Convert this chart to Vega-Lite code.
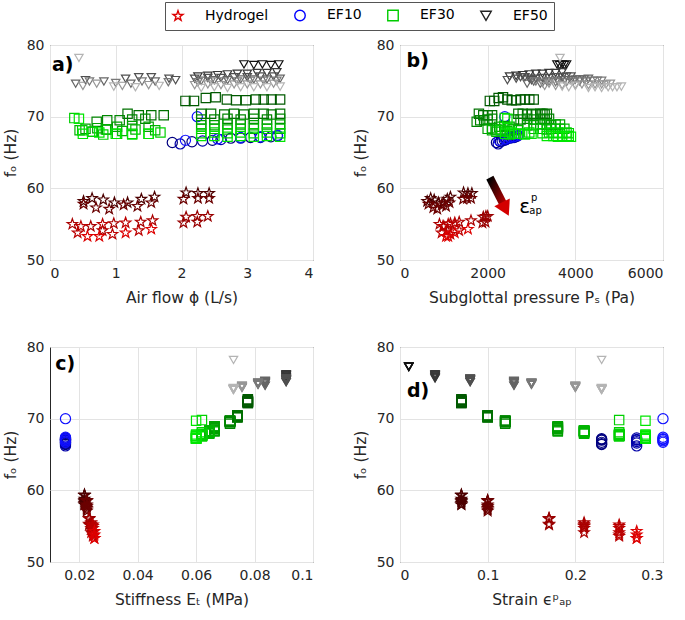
{
"$schema":"https://vega.github.io/schema/vega-lite/v6.json",
"padding":{"left":2,"top":1,"right":2,"bottom":5},
"background":"white",
"config":{
 "font":"DejaVu Sans",
 "view":{"stroke":"#262626","strokeWidth":1},
 "axis":{"domain":false,"ticks":false,"gridColor":"#e3e3e3","labelFont":"DejaVu Sans","labelFontSize":14,"labelColor":"#262626","labelPadding":6,"titleFont":"DejaVu Sans","titleFontSize":15.5,"titleFontWeight":"normal","titleColor":"#262626"},
 "axisX":{"titlePadding":10},
 "axisY":{"titlePadding":8}
},
"resolve":{"scale":{"shape":"independent","color":"independent"},"legend":{"shape":"independent","color":"independent"}},
"datasets":{"legendItems":[{"m":"Hydrogel"},{"m":"EF10"},{"m":"EF30"},{"m":"EF50"}]},
"data":{"values":[
{"m":"Hydrogel","k":"H1","s":0.07,"E":0.0218,"q":0.51,"p":620,"f":58.2},
{"m":"Hydrogel","k":"H1","s":0.07,"E":0.0218,"q":0.64,"p":700,"f":58.6},
{"m":"Hydrogel","k":"H1","s":0.07,"E":0.0218,"q":0.81,"p":780,"f":58.4},
{"m":"Hydrogel","k":"H1","s":0.07,"E":0.0218,"q":0.98,"p":880,"f":58.0},
{"m":"Hydrogel","k":"H1","s":0.07,"E":0.0218,"q":1.18,"p":990,"f":58.0},
{"m":"Hydrogel","k":"H1","s":0.07,"E":0.0218,"q":1.39,"p":1080,"f":58.5},
{"m":"Hydrogel","k":"H1","s":0.07,"E":0.0218,"q":1.59,"p":1150,"f":58.8},
{"m":"Hydrogel","k":"H1","s":0.07,"E":0.0218,"q":2.07,"p":1450,"f":59.4},
{"m":"Hydrogel","k":"H1","s":0.07,"E":0.0218,"q":2.25,"p":1550,"f":59.3},
{"m":"Hydrogel","k":"H1","s":0.07,"E":0.0218,"q":2.42,"p":1640,"f":59.3},
{"m":"Hydrogel","k":"H2","s":0.10,"E":0.0226,"q":0.51,"p":650,"f":57.8},
{"m":"Hydrogel","k":"H2","s":0.10,"E":0.0226,"q":0.70,"p":760,"f":57.3},
{"m":"Hydrogel","k":"H2","s":0.10,"E":0.0226,"q":0.90,"p":850,"f":57.1},
{"m":"Hydrogel","k":"H2","s":0.10,"E":0.0226,"q":1.12,"p":950,"f":57.7},
{"m":"Hydrogel","k":"H2","s":0.10,"E":0.0226,"q":1.33,"p":1050,"f":57.5},
{"m":"Hydrogel","k":"H2","s":0.10,"E":0.0226,"q":1.54,"p":1130,"f":58.0},
{"m":"Hydrogel","k":"H2","s":0.10,"E":0.0226,"q":2.03,"p":1440,"f":58.5},
{"m":"Hydrogel","k":"H2","s":0.10,"E":0.0226,"q":2.25,"p":1530,"f":58.6},
{"m":"Hydrogel","k":"H2","s":0.10,"E":0.0226,"q":2.42,"p":1620,"f":58.6},
{"m":"Hydrogel","k":"H3","s":0.17,"E":0.0234,"q":2.03,"p":1880,"f":55.2},
{"m":"Hydrogel","k":"H3","s":0.17,"E":0.0234,"q":2.07,"p":1900,"f":56.0},
{"m":"Hydrogel","k":"H3","s":0.17,"E":0.0234,"q":2.24,"p":1950,"f":55.3},
{"m":"Hydrogel","k":"H3","s":0.17,"E":0.0234,"q":2.24,"p":1960,"f":56.1},
{"m":"Hydrogel","k":"H3","s":0.17,"E":0.0234,"q":2.40,"p":2000,"f":56.1},
{"m":"Hydrogel","k":"H4","s":0.21,"E":0.0241,"q":0.34,"p":900,"f":55.0},
{"m":"Hydrogel","k":"H4","s":0.21,"E":0.0241,"q":0.62,"p":1000,"f":54.7},
{"m":"Hydrogel","k":"H4","s":0.21,"E":0.0241,"q":0.80,"p":1080,"f":54.1},
{"m":"Hydrogel","k":"H4","s":0.21,"E":0.0241,"q":0.97,"p":1150,"f":55.1},
{"m":"Hydrogel","k":"H4","s":0.21,"E":0.0241,"q":1.38,"p":1350,"f":55.3},
{"m":"Hydrogel","k":"H4","s":0.21,"E":0.0241,"q":1.56,"p":1620,"f":55.5},
{"m":"Hydrogel","k":"H5","s":0.25,"E":0.0247,"q":0.42,"p":950,"f":53.8},
{"m":"Hydrogel","k":"H5","s":0.25,"E":0.0247,"q":0.47,"p":980,"f":54.7},
{"m":"Hydrogel","k":"H5","s":0.25,"E":0.0247,"q":0.80,"p":1100,"f":55.0},
{"m":"Hydrogel","k":"H5","s":0.25,"E":0.0247,"q":0.95,"p":1150,"f":53.6},
{"m":"Hydrogel","k":"H5","s":0.25,"E":0.0247,"q":1.15,"p":1250,"f":55.2},
{"m":"Hydrogel","k":"H5","s":0.25,"E":0.0247,"q":1.35,"p":1350,"f":54.1},
{"m":"Hydrogel","k":"H6","s":0.27,"E":0.0252,"q":0.57,"p":1050,"f":53.3},
{"m":"Hydrogel","k":"H6","s":0.27,"E":0.0252,"q":0.75,"p":1100,"f":53.3},
{"m":"Hydrogel","k":"H6","s":0.27,"E":0.0252,"q":1.15,"p":1250,"f":53.8},
{"m":"Hydrogel","k":"H6","s":0.27,"E":0.0252,"q":1.54,"p":1550,"f":54.3},
{"m":"EF10","k":"C1","s":0.23,"E":0.0153,"q":1.86,"p":2200,"f":66.4},
{"m":"EF10","k":"C1","s":0.23,"E":0.0153,"q":2.16,"p":2290,"f":66.5},
{"m":"EF10","k":"C1","s":0.23,"E":0.0153,"q":2.47,"p":2380,"f":66.7},
{"m":"EF10","k":"C1","s":0.23,"E":0.0153,"q":2.75,"p":2460,"f":67.0},
{"m":"EF10","k":"C1","s":0.23,"E":0.0153,"q":3.05,"p":2550,"f":67.1},
{"m":"EF10","k":"C1","s":0.23,"E":0.0153,"q":3.36,"p":2640,"f":67.2},
{"m":"EF10","k":"C2","s":0.27,"E":0.0153,"q":1.98,"p":2240,"f":66.2},
{"m":"EF10","k":"C2","s":0.27,"E":0.0153,"q":2.32,"p":2330,"f":66.6},
{"m":"EF10","k":"C2","s":0.27,"E":0.0153,"q":2.60,"p":2420,"f":66.8},
{"m":"EF10","k":"C2","s":0.27,"E":0.0153,"q":2.90,"p":2510,"f":67.0},
{"m":"EF10","k":"C2","s":0.27,"E":0.0153,"q":3.20,"p":2600,"f":67.1},
{"m":"EF10","k":"C2","s":0.27,"E":0.0153,"q":3.46,"p":2680,"f":67.3},
{"m":"EF10","k":"C3","s":0.30,"E":0.0153,"q":2.06,"p":2260,"f":66.7},
{"m":"EF10","k":"C3","s":0.30,"E":0.0153,"q":2.24,"p":2390,"f":70.0},
{"m":"EF10","k":"C3","s":0.30,"E":0.0153,"q":2.55,"p":2400,"f":66.9},
{"m":"EF10","k":"C3","s":0.30,"E":0.0153,"q":2.90,"p":2500,"f":67.1},
{"m":"EF10","k":"C3","s":0.30,"E":0.0153,"q":3.20,"p":2590,"f":67.2},
{"m":"EF10","k":"C3","s":0.30,"E":0.0153,"q":3.46,"p":2700,"f":67.4},
{"m":"EF30","k":"G1","s":0.07,"E":0.0777,"q":2.06,"p":2050,"f":72.2},
{"m":"EF30","k":"G1","s":0.07,"E":0.0777,"q":2.19,"p":2150,"f":72.2},
{"m":"EF30","k":"G1","s":0.07,"E":0.0777,"q":2.37,"p":2250,"f":72.6},
{"m":"EF30","k":"G1","s":0.07,"E":0.0777,"q":2.52,"p":2350,"f":72.7},
{"m":"EF30","k":"G1","s":0.07,"E":0.0777,"q":2.69,"p":2450,"f":72.4},
{"m":"EF30","k":"G1","s":0.07,"E":0.0777,"q":2.83,"p":2550,"f":72.3},
{"m":"EF30","k":"G1","s":0.07,"E":0.0777,"q":2.98,"p":2650,"f":72.3},
{"m":"EF30","k":"G1","s":0.07,"E":0.0777,"q":3.13,"p":2750,"f":72.4},
{"m":"EF30","k":"G1","s":0.07,"E":0.0777,"q":3.25,"p":2850,"f":72.4},
{"m":"EF30","k":"G1","s":0.07,"E":0.0777,"q":3.37,"p":2950,"f":72.4},
{"m":"EF30","k":"G1","s":0.07,"E":0.0777,"q":3.50,"p":3050,"f":72.4},
{"m":"EF30","k":"G2","s":0.10,"E":0.0741,"q":1.18,"p":1800,"f":70.4},
{"m":"EF30","k":"G2","s":0.10,"E":0.0741,"q":1.35,"p":1900,"f":70.2},
{"m":"EF30","k":"G2","s":0.10,"E":0.0741,"q":1.54,"p":2000,"f":70.2},
{"m":"EF30","k":"G2","s":0.10,"E":0.0741,"q":1.73,"p":2100,"f":70.2},
{"m":"EF30","k":"G2","s":0.10,"E":0.0741,"q":2.30,"p":2700,"f":70.4},
{"m":"EF30","k":"G2","s":0.10,"E":0.0741,"q":2.45,"p":2800,"f":70.4},
{"m":"EF30","k":"G2","s":0.10,"E":0.0741,"q":2.65,"p":2900,"f":70.3},
{"m":"EF30","k":"G2","s":0.10,"E":0.0741,"q":2.80,"p":3000,"f":70.4},
{"m":"EF30","k":"G2","s":0.10,"E":0.0741,"q":2.95,"p":3100,"f":70.3},
{"m":"EF30","k":"G2","s":0.10,"E":0.0741,"q":3.10,"p":3200,"f":70.4},
{"m":"EF30","k":"G2","s":0.10,"E":0.0741,"q":3.25,"p":3250,"f":70.4},
{"m":"EF30","k":"G2","s":0.10,"E":0.0741,"q":3.37,"p":3300,"f":70.3},
{"m":"EF30","k":"G2","s":0.10,"E":0.0741,"q":3.50,"p":3350,"f":70.4},
{"m":"EF30","k":"G3","s":0.12,"E":0.0716,"q":0.71,"p":1750,"f":69.3},
{"m":"EF30","k":"G3","s":0.12,"E":0.0716,"q":0.87,"p":1830,"f":69.5},
{"m":"EF30","k":"G3","s":0.12,"E":0.0716,"q":1.06,"p":1920,"f":69.5},
{"m":"EF30","k":"G3","s":0.12,"E":0.0716,"q":1.25,"p":2000,"f":69.6},
{"m":"EF30","k":"G3","s":0.12,"E":0.0716,"q":1.45,"p":2100,"f":69.7},
{"m":"EF30","k":"G3","s":0.12,"E":0.0716,"q":2.30,"p":2600,"f":69.6},
{"m":"EF30","k":"G3","s":0.12,"E":0.0716,"q":2.50,"p":2750,"f":69.6},
{"m":"EF30","k":"G3","s":0.12,"E":0.0716,"q":2.70,"p":2900,"f":69.7},
{"m":"EF30","k":"G3","s":0.12,"E":0.0716,"q":2.90,"p":3050,"f":69.6},
{"m":"EF30","k":"G3","s":0.12,"E":0.0716,"q":3.10,"p":3200,"f":69.7},
{"m":"EF30","k":"G3","s":0.12,"E":0.0716,"q":3.30,"p":3300,"f":69.6},
{"m":"EF30","k":"G3","s":0.12,"E":0.0716,"q":3.50,"p":3400,"f":69.7},
{"m":"EF30","k":"G4","s":0.18,"E":0.0663,"q":0.54,"p":2000,"f":68.3},
{"m":"EF30","k":"G4","s":0.18,"E":0.0663,"q":0.72,"p":2100,"f":68.4},
{"m":"EF30","k":"G4","s":0.18,"E":0.0663,"q":0.87,"p":2180,"f":68.2},
{"m":"EF30","k":"G4","s":0.18,"E":0.0663,"q":1.02,"p":2260,"f":68.6},
{"m":"EF30","k":"G4","s":0.18,"E":0.0663,"q":1.25,"p":2380,"f":68.7},
{"m":"EF30","k":"G4","s":0.18,"E":0.0663,"q":1.50,"p":2500,"f":68.6},
{"m":"EF30","k":"G4","s":0.18,"E":0.0663,"q":2.30,"p":2900,"f":68.8},
{"m":"EF30","k":"G4","s":0.18,"E":0.0663,"q":2.50,"p":3050,"f":68.8},
{"m":"EF30","k":"G4","s":0.18,"E":0.0663,"q":2.70,"p":3200,"f":68.9},
{"m":"EF30","k":"G4","s":0.18,"E":0.0663,"q":2.90,"p":3350,"f":68.9},
{"m":"EF30","k":"G4","s":0.18,"E":0.0663,"q":3.10,"p":3450,"f":68.8},
{"m":"EF30","k":"G4","s":0.18,"E":0.0663,"q":3.30,"p":3550,"f":68.9},
{"m":"EF30","k":"G4","s":0.18,"E":0.0663,"q":3.50,"p":3650,"f":68.9},
{"m":"EF30","k":"G5","s":0.21,"E":0.0645,"q":0.45,"p":2100,"f":68.1},
{"m":"EF30","k":"G5","s":0.21,"E":0.0645,"q":0.65,"p":2200,"f":67.9},
{"m":"EF30","k":"G5","s":0.21,"E":0.0645,"q":0.85,"p":2300,"f":68.2},
{"m":"EF30","k":"G5","s":0.21,"E":0.0645,"q":1.10,"p":2450,"f":68.0},
{"m":"EF30","k":"G5","s":0.21,"E":0.0645,"q":1.30,"p":2550,"f":68.2},
{"m":"EF30","k":"G5","s":0.21,"E":0.0645,"q":1.60,"p":2700,"f":68.1},
{"m":"EF30","k":"G5","s":0.21,"E":0.0645,"q":2.30,"p":3050,"f":68.3},
{"m":"EF30","k":"G5","s":0.21,"E":0.0645,"q":2.50,"p":3200,"f":68.3},
{"m":"EF30","k":"G5","s":0.21,"E":0.0645,"q":2.70,"p":3350,"f":68.2},
{"m":"EF30","k":"G5","s":0.21,"E":0.0645,"q":2.90,"p":3450,"f":68.3},
{"m":"EF30","k":"G5","s":0.21,"E":0.0645,"q":3.10,"p":3550,"f":68.3},
{"m":"EF30","k":"G5","s":0.21,"E":0.0645,"q":3.30,"p":3650,"f":68.3},
{"m":"EF30","k":"G5","s":0.21,"E":0.0645,"q":3.50,"p":3750,"f":68.3},
{"m":"EF30","k":"G6","s":0.25,"E":0.0620,"q":0.37,"p":2390,"f":69.8},
{"m":"EF30","k":"G6","s":0.25,"E":0.0620,"q":0.49,"p":2300,"f":68.1},
{"m":"EF30","k":"G6","s":0.25,"E":0.0620,"q":0.64,"p":2400,"f":67.9},
{"m":"EF30","k":"G6","s":0.25,"E":0.0620,"q":0.81,"p":2500,"f":67.5},
{"m":"EF30","k":"G6","s":0.25,"E":0.0620,"q":1.02,"p":2600,"f":67.6},
{"m":"EF30","k":"G6","s":0.25,"E":0.0620,"q":1.25,"p":2700,"f":67.6},
{"m":"EF30","k":"G6","s":0.25,"E":0.0620,"q":1.50,"p":2850,"f":67.6},
{"m":"EF30","k":"G6","s":0.25,"E":0.0620,"q":1.68,"p":2950,"f":67.8},
{"m":"EF30","k":"G6","s":0.25,"E":0.0620,"q":2.30,"p":3250,"f":67.7},
{"m":"EF30","k":"G6","s":0.25,"E":0.0620,"q":2.50,"p":3400,"f":67.8},
{"m":"EF30","k":"G6","s":0.25,"E":0.0620,"q":2.70,"p":3500,"f":67.7},
{"m":"EF30","k":"G6","s":0.25,"E":0.0620,"q":2.90,"p":3600,"f":67.8},
{"m":"EF30","k":"G6","s":0.25,"E":0.0620,"q":3.10,"p":3700,"f":67.7},
{"m":"EF30","k":"G6","s":0.25,"E":0.0620,"q":3.30,"p":3800,"f":67.8},
{"m":"EF30","k":"G6","s":0.25,"E":0.0620,"q":3.50,"p":3850,"f":67.7},
{"m":"EF30","k":"G7","s":0.28,"E":0.0600,"q":0.44,"p":2450,"f":69.7},
{"m":"EF30","k":"G7","s":0.28,"E":0.0600,"q":0.50,"p":2400,"f":67.6},
{"m":"EF30","k":"G7","s":0.28,"E":0.0600,"q":0.75,"p":2550,"f":67.8},
{"m":"EF30","k":"G7","s":0.28,"E":0.0600,"q":1.00,"p":2700,"f":67.6},
{"m":"EF30","k":"G7","s":0.28,"E":0.0600,"q":1.25,"p":2850,"f":67.5},
{"m":"EF30","k":"G7","s":0.28,"E":0.0600,"q":1.50,"p":3000,"f":67.6},
{"m":"EF30","k":"G7","s":0.28,"E":0.0600,"q":2.30,"p":3350,"f":67.3},
{"m":"EF30","k":"G7","s":0.28,"E":0.0600,"q":2.50,"p":3500,"f":67.3},
{"m":"EF30","k":"G7","s":0.28,"E":0.0600,"q":2.70,"p":3600,"f":67.2},
{"m":"EF30","k":"G7","s":0.28,"E":0.0600,"q":2.90,"p":3700,"f":67.3},
{"m":"EF30","k":"G7","s":0.28,"E":0.0600,"q":3.10,"p":3800,"f":67.2},
{"m":"EF30","k":"G7","s":0.28,"E":0.0600,"q":3.30,"p":3850,"f":67.3},
{"m":"EF30","k":"G7","s":0.28,"E":0.0600,"q":3.50,"p":3900,"f":67.2},
{"m":"EF50","k":"T1","s":0.01,"E":null,"q":2.95,"p":3580,"f":77.3},
{"m":"EF50","k":"T1","s":0.01,"E":null,"q":3.10,"p":3640,"f":77.2},
{"m":"EF50","k":"T1","s":0.01,"E":null,"q":3.23,"p":3700,"f":77.3},
{"m":"EF50","k":"T1","s":0.01,"E":null,"q":3.36,"p":3750,"f":77.2},
{"m":"EF50","k":"T1","s":0.01,"E":null,"q":3.48,"p":3800,"f":77.3},
{"m":"EF50","k":"T2","s":0.04,"E":0.0908,"q":2.25,"p":2500,"f":75.6},
{"m":"EF50","k":"T2","s":0.04,"E":0.0908,"q":2.40,"p":2650,"f":75.7},
{"m":"EF50","k":"T2","s":0.04,"E":0.0908,"q":2.55,"p":2800,"f":75.8},
{"m":"EF50","k":"T2","s":0.04,"E":0.0908,"q":2.70,"p":2950,"f":75.9},
{"m":"EF50","k":"T2","s":0.04,"E":0.0908,"q":2.85,"p":3100,"f":76.0},
{"m":"EF50","k":"T2","s":0.04,"E":0.0908,"q":3.00,"p":3250,"f":76.0},
{"m":"EF50","k":"T2","s":0.04,"E":0.0908,"q":3.15,"p":3400,"f":76.1},
{"m":"EF50","k":"T2","s":0.04,"E":0.0908,"q":3.30,"p":3550,"f":76.1},
{"m":"EF50","k":"T2","s":0.04,"E":0.0908,"q":3.45,"p":3700,"f":76.2},
{"m":"EF50","k":"T3","s":0.08,"E":0.0908,"q":0.54,"p":2450,"f":75.1},
{"m":"EF50","k":"T3","s":0.08,"E":0.0908,"q":1.15,"p":2650,"f":75.3},
{"m":"EF50","k":"T3","s":0.08,"E":0.0908,"q":1.35,"p":2750,"f":75.5},
{"m":"EF50","k":"T3","s":0.08,"E":0.0908,"q":1.54,"p":2850,"f":75.5},
{"m":"EF50","k":"T3","s":0.08,"E":0.0908,"q":1.81,"p":2950,"f":75.3},
{"m":"EF50","k":"T3","s":0.08,"E":0.0908,"q":1.91,"p":3000,"f":75.1},
{"m":"EF50","k":"T3","s":0.08,"E":0.0908,"q":2.20,"p":3100,"f":75.3},
{"m":"EF50","k":"T3","s":0.08,"E":0.0908,"q":2.40,"p":3250,"f":75.4},
{"m":"EF50","k":"T3","s":0.08,"E":0.0908,"q":2.60,"p":3400,"f":75.4},
{"m":"EF50","k":"T3","s":0.08,"E":0.0908,"q":2.80,"p":3550,"f":75.5},
{"m":"EF50","k":"T3","s":0.08,"E":0.0908,"q":3.00,"p":3700,"f":75.5},
{"m":"EF50","k":"T3","s":0.08,"E":0.0908,"q":3.20,"p":3800,"f":75.6},
{"m":"EF50","k":"T3","s":0.08,"E":0.0908,"q":3.40,"p":3900,"f":75.6},
{"m":"EF50","k":"T4","s":0.13,"E":0.0836,"q":0.39,"p":2900,"f":74.6},
{"m":"EF50","k":"T4","s":0.13,"E":0.0836,"q":0.82,"p":3050,"f":74.9},
{"m":"EF50","k":"T4","s":0.13,"E":0.0836,"q":1.23,"p":3200,"f":74.6},
{"m":"EF50","k":"T4","s":0.13,"E":0.0836,"q":1.60,"p":3350,"f":74.9},
{"m":"EF50","k":"T4","s":0.13,"E":0.0836,"q":2.30,"p":3600,"f":75.0},
{"m":"EF50","k":"T4","s":0.13,"E":0.0836,"q":2.50,"p":3750,"f":75.1},
{"m":"EF50","k":"T4","s":0.13,"E":0.0836,"q":2.70,"p":3900,"f":75.1},
{"m":"EF50","k":"T4","s":0.13,"E":0.0836,"q":2.90,"p":4000,"f":75.2},
{"m":"EF50","k":"T4","s":0.13,"E":0.0836,"q":3.10,"p":4100,"f":75.2},
{"m":"EF50","k":"T4","s":0.13,"E":0.0836,"q":3.30,"p":4200,"f":75.2},
{"m":"EF50","k":"T4","s":0.13,"E":0.0836,"q":3.50,"p":4300,"f":75.3},
{"m":"EF50","k":"T5","s":0.15,"E":0.0812,"q":0.60,"p":3100,"f":74.9},
{"m":"EF50","k":"T5","s":0.15,"E":0.0812,"q":1.00,"p":3250,"f":74.7},
{"m":"EF50","k":"T5","s":0.15,"E":0.0812,"q":1.40,"p":3400,"f":74.9},
{"m":"EF50","k":"T5","s":0.15,"E":0.0812,"q":1.80,"p":3550,"f":74.8},
{"m":"EF50","k":"T5","s":0.15,"E":0.0812,"q":2.25,"p":3800,"f":74.8},
{"m":"EF50","k":"T5","s":0.15,"E":0.0812,"q":2.45,"p":3950,"f":74.9},
{"m":"EF50","k":"T5","s":0.15,"E":0.0812,"q":2.65,"p":4100,"f":74.9},
{"m":"EF50","k":"T5","s":0.15,"E":0.0812,"q":2.85,"p":4250,"f":74.9},
{"m":"EF50","k":"T5","s":0.15,"E":0.0812,"q":3.05,"p":4400,"f":75.0},
{"m":"EF50","k":"T5","s":0.15,"E":0.0812,"q":3.25,"p":4500,"f":75.0},
{"m":"EF50","k":"T5","s":0.15,"E":0.0812,"q":3.45,"p":4600,"f":75.0},
{"m":"EF50","k":"T6","s":0.20,"E":0.0757,"q":0.50,"p":3300,"f":74.3},
{"m":"EF50","k":"T6","s":0.20,"E":0.0757,"q":0.71,"p":3400,"f":74.6},
{"m":"EF50","k":"T6","s":0.20,"E":0.0757,"q":1.10,"p":3550,"f":74.3},
{"m":"EF50","k":"T6","s":0.20,"E":0.0757,"q":1.50,"p":3700,"f":74.4},
{"m":"EF50","k":"T6","s":0.20,"E":0.0757,"q":2.20,"p":4000,"f":74.4},
{"m":"EF50","k":"T6","s":0.20,"E":0.0757,"q":2.40,"p":4150,"f":74.5},
{"m":"EF50","k":"T6","s":0.20,"E":0.0757,"q":2.60,"p":4300,"f":74.4},
{"m":"EF50","k":"T6","s":0.20,"E":0.0757,"q":2.80,"p":4450,"f":74.5},
{"m":"EF50","k":"T6","s":0.20,"E":0.0757,"q":3.00,"p":4600,"f":74.5},
{"m":"EF50","k":"T6","s":0.20,"E":0.0757,"q":3.20,"p":4700,"f":74.5},
{"m":"EF50","k":"T6","s":0.20,"E":0.0757,"q":3.40,"p":4800,"f":74.6},
{"m":"EF50","k":"T7","s":0.23,"E":0.0728,"q":0.44,"p":3650,"f":78.2},
{"m":"EF50","k":"T7","s":0.23,"E":0.0728,"q":0.97,"p":3700,"f":74.2},
{"m":"EF50","k":"T7","s":0.23,"E":0.0728,"q":1.30,"p":3850,"f":74.1},
{"m":"EF50","k":"T7","s":0.23,"E":0.0728,"q":1.66,"p":4000,"f":74.3},
{"m":"EF50","k":"T7","s":0.23,"E":0.0728,"q":2.30,"p":4300,"f":74.0},
{"m":"EF50","k":"T7","s":0.23,"E":0.0728,"q":2.50,"p":4450,"f":74.1},
{"m":"EF50","k":"T7","s":0.23,"E":0.0728,"q":2.70,"p":4600,"f":74.0},
{"m":"EF50","k":"T7","s":0.23,"E":0.0728,"q":2.90,"p":4750,"f":74.1},
{"m":"EF50","k":"T7","s":0.23,"E":0.0728,"q":3.10,"p":4850,"f":74.1},
{"m":"EF50","k":"T7","s":0.23,"E":0.0728,"q":3.30,"p":4950,"f":74.1},
{"m":"EF50","k":"T7","s":0.23,"E":0.0728,"q":3.50,"p":5050,"f":74.2}
]},
"columns":2,
"bounds":"flush",
"spacing":{"row":87,"column":87},
"concat":[
  {"width":263,"height":215,
   "resolve":{"scale":{"color":"independent","shape":"independent"},"legend":{"color":"independent","shape":"independent"}},
   "layer":[
   {"mark":{"type":"point","filled":false,"strokeWidth":1.2,"opacity":1},
    "encoding":{
     "x":{"field":"q","type":"quantitative","scale":{"domain":[0,4],"nice":false,"zero":false},"axis":{"values":[0,1,2,3,4],"format":"d","title":"Air flow ϕ (L/s)"}},
     "y":{"field":"f","type":"quantitative","scale":{"domain":[50,80],"nice":false,"zero":false},"axis":{"values":[50,55,60,65,70,75,80],"title":"fₒ (Hz)"}},
     "shape":{"field":"m","type":"nominal","scale":{"domain":["Hydrogel","EF10","EF30","EF50"],"range":["M0,-1L0.235,-0.324L0.951,-0.309L0.38,0.124L0.588,0.809L0,0.4L-0.588,0.809L-0.38,0.124L-0.951,-0.309L-0.235,-0.324Z","circle","square","triangle-down"]},"legend":null},
     "size":{"field":"m","type":"ordinal","scale":{"domain":["Hydrogel","EF10","EF30","EF50"],"range":[120,70,60,130]},"legend":null},
     "color":{"field":"k","type":"nominal","scale":{"domain":["H1","H2","H3","H4","H5","H6","C1","C2","C3","G1","G2","G3","G4","G5","G6","G7","T1","T2","T3","T4","T5","T6","T7"],"range":["#4d0000","#6b0000","#990000","#aa0000","#bb0000","#dd0000","#000080","#0000a8","#1010ff","#005a00","#007000","#008500","#00a000","#00b400","#00d000","#00e600","#101010","#383838","#505050","#656565","#787878","#969696","#b4b4b4"]},"legend":null}
    }},
   {"data":{"name":"legendItems"},"mark":{"type":"point","filled":false,"opacity":0,"strokeWidth":1.4},
    "encoding":{
     "shape":{"field":"m","type":"nominal","scale":{"domain":["Hydrogel","EF10","EF30","EF50"],"range":["M0,-1L0.235,-0.324L0.951,-0.309L0.38,0.124L0.588,0.809L0,0.4L-0.588,0.809L-0.38,0.124L-0.951,-0.309L-0.235,-0.324Z","circle","square","triangle-down"]},
      "legend":{"orient":"none","legendX":115,"legendY":-43,"direction":"horizontal","columns":4,"title":null,"strokeColor":"#555555","fillColor":"#ffffff","padding":6,"symbolSize":110,"symbolStrokeWidth":1.4,"symbolOpacity":1,"labelFont":"DejaVu Sans","labelFontSize":14,"labelColor":"#000000","labelOffset":20,"columnPadding":22}},
     "color":{"field":"m","type":"nominal","scale":{"domain":["Hydrogel","EF10","EF30","EF50"],"range":["#dd0000","#0000ff","#00cc00","#222222"]},
      "legend":{"orient":"none","legendX":115,"legendY":-43,"direction":"horizontal","columns":4,"title":null,"strokeColor":"#555555","fillColor":"#ffffff","padding":6,"symbolSize":110,"symbolStrokeWidth":1.4,"symbolOpacity":1,"labelFont":"DejaVu Sans","labelFontSize":14,"labelColor":"#000000","labelOffset":20,"columnPadding":22}}
    }},
   {"data":{"values":[{}]},"mark":{"type":"text","fontWeight":"bold","fontSize":19,"align":"left","baseline":"middle","color":"#000"},"encoding":{"x":{"datum":0.03},"y":{"datum":77.2},"text":{"value":"a)"}}}
  ]},
  {"width":263,"height":215,"layer":[
   {"mark":{"type":"point","filled":false,"strokeWidth":1.2,"opacity":1},
    "encoding":{
     "x":{"field":"p","type":"quantitative","scale":{"domain":[0,6000],"nice":false,"zero":false},"axis":{"values":[0,2000,4000,6000],"format":"d","title":"Subglottal pressure Pₛ (Pa)"}},
     "y":{"field":"f","type":"quantitative","scale":{"domain":[50,80],"nice":false,"zero":false},"axis":{"values":[50,55,60,65,70,75,80],"title":"fₒ (Hz)"}},
     "shape":{"field":"m","type":"nominal","scale":{"domain":["Hydrogel","EF10","EF30","EF50"],"range":["M0,-1L0.235,-0.324L0.951,-0.309L0.38,0.124L0.588,0.809L0,0.4L-0.588,0.809L-0.38,0.124L-0.951,-0.309L-0.235,-0.324Z","circle","square","triangle-down"]},"legend":null},
     "size":{"field":"m","type":"ordinal","scale":{"domain":["Hydrogel","EF10","EF30","EF50"],"range":[120,70,60,130]},"legend":null},
     "color":{"field":"k","type":"nominal","scale":{"domain":["H1","H2","H3","H4","H5","H6","C1","C2","C3","G1","G2","G3","G4","G5","G6","G7","T1","T2","T3","T4","T5","T6","T7"],"range":["#4d0000","#6b0000","#990000","#aa0000","#bb0000","#dd0000","#000080","#0000a8","#1010ff","#005a00","#007000","#008500","#00a000","#00b400","#00d000","#00e600","#101010","#383838","#505050","#656565","#787878","#969696","#b4b4b4"]},"legend":null}
    }},
   {"data":{"values":[{}]},"mark":{"type":"rule","strokeWidth":8,"strokeCap":"butt","color":{"gradient":"linear","x1":0,"y1":0,"x2":1,"y2":1,"stops":[{"offset":0,"color":"#000000"},{"offset":1,"color":"#c00000"}]}},"encoding":{"x":{"datum":2050},"y":{"datum":61.5},"x2":{"datum":2385},"y2":{"datum":57.45}}},
   {"data":{"values":[{}]},"mark":{"type":"point","shape":"triangle-down","filled":true,"color":"#d40000","size":300,"angle":333.4,"opacity":1},"encoding":{"x":{"datum":2405},"y":{"datum":57.1}}},
   {"data":{"values":[{}]},"mark":{"type":"text","fontSize":20,"align":"left","baseline":"middle","color":"#000"},"encoding":{"x":{"datum":2720},"y":{"datum":57.4},"text":{"value":"ε"}}},
   {"data":{"values":[{}]},"mark":{"type":"text","fontSize":10,"align":"left","baseline":"middle","color":"#000"},"encoding":{"x":{"datum":2990},"y":{"datum":58.7},"text":{"value":"p"}}},
   {"data":{"values":[{}]},"mark":{"type":"text","fontSize":10,"align":"left","baseline":"middle","color":"#000"},"encoding":{"x":{"datum":2950},"y":{"datum":56.8},"text":{"value":"ap"}}},
   {"data":{"values":[{}]},"mark":{"type":"text","fontWeight":"bold","fontSize":19,"align":"left","baseline":"middle","color":"#000"},"encoding":{"x":{"datum":150},"y":{"datum":77.8},"text":{"value":"b)"}}}
  ]},
  {"width":263,"height":215,"layer":[
   {"mark":{"type":"point","filled":false,"strokeWidth":1.2,"opacity":1},
    "encoding":{
     "x":{"field":"E","type":"quantitative","scale":{"domain":[0.01,0.1],"nice":false,"zero":false},"axis":{"values":[0.02,0.04,0.06,0.08,0.1],"format":".2~f","title":"Stiffness Eₜ (MPa)"}},
     "y":{"field":"f","type":"quantitative","scale":{"domain":[50,80],"nice":false,"zero":false},"axis":{"values":[50,55,60,65,70,75,80],"title":"fₒ (Hz)"}},
     "shape":{"field":"m","type":"nominal","scale":{"domain":["Hydrogel","EF10","EF30","EF50"],"range":["M0,-1L0.235,-0.324L0.951,-0.309L0.38,0.124L0.588,0.809L0,0.4L-0.588,0.809L-0.38,0.124L-0.951,-0.309L-0.235,-0.324Z","circle","square","triangle-down"]},"legend":null},
     "size":{"field":"m","type":"ordinal","scale":{"domain":["Hydrogel","EF10","EF30","EF50"],"range":[120,70,60,130]},"legend":null},
     "color":{"field":"k","type":"nominal","scale":{"domain":["H1","H2","H3","H4","H5","H6","C1","C2","C3","G1","G2","G3","G4","G5","G6","G7","T1","T2","T3","T4","T5","T6","T7"],"range":["#4d0000","#6b0000","#990000","#aa0000","#bb0000","#dd0000","#000080","#0000a8","#1010ff","#005a00","#007000","#008500","#00a000","#00b400","#00d000","#00e600","#101010","#383838","#505050","#656565","#787878","#969696","#b4b4b4"]},"legend":null}
    }},
   {"data":{"values":[{}]},"mark":{"type":"text","fontWeight":"bold","fontSize":19,"align":"left","baseline":"middle","color":"#000"},"encoding":{"x":{"datum":0.0118},"y":{"datum":77.6},"text":{"value":"c)"}}}
  ]},
  {"width":263,"height":215,"layer":[
   {"mark":{"type":"point","filled":false,"strokeWidth":1.2,"opacity":1},
    "encoding":{
     "x":{"field":"s","type":"quantitative","scale":{"domain":[0,0.3],"nice":false,"zero":false},"axis":{"values":[0,0.1,0.2,0.3],"format":".1~f","title":"Strain ϵᵖₐₚ"}},
     "y":{"field":"f","type":"quantitative","scale":{"domain":[50,80],"nice":false,"zero":false},"axis":{"values":[50,55,60,65,70,75,80],"title":"fₒ (Hz)"}},
     "shape":{"field":"m","type":"nominal","scale":{"domain":["Hydrogel","EF10","EF30","EF50"],"range":["M0,-1L0.235,-0.324L0.951,-0.309L0.38,0.124L0.588,0.809L0,0.4L-0.588,0.809L-0.38,0.124L-0.951,-0.309L-0.235,-0.324Z","circle","square","triangle-down"]},"legend":null},
     "size":{"field":"m","type":"ordinal","scale":{"domain":["Hydrogel","EF10","EF30","EF50"],"range":[120,70,60,130]},"legend":null},
     "color":{"field":"k","type":"nominal","scale":{"domain":["H1","H2","H3","H4","H5","H6","C1","C2","C3","G1","G2","G3","G4","G5","G6","G7","T1","T2","T3","T4","T5","T6","T7"],"range":["#4d0000","#6b0000","#990000","#aa0000","#bb0000","#dd0000","#000080","#0000a8","#1010ff","#005a00","#007000","#008500","#00a000","#00b400","#00d000","#00e600","#101010","#383838","#505050","#656565","#787878","#969696","#b4b4b4"]},"legend":null}
    }},
   {"data":{"values":[{}]},"mark":{"type":"text","fontWeight":"bold","fontSize":19,"align":"left","baseline":"middle","color":"#000"},"encoding":{"x":{"datum":0.008},"y":{"datum":73.9},"text":{"value":"d)"}}}
  ]}
]
}
